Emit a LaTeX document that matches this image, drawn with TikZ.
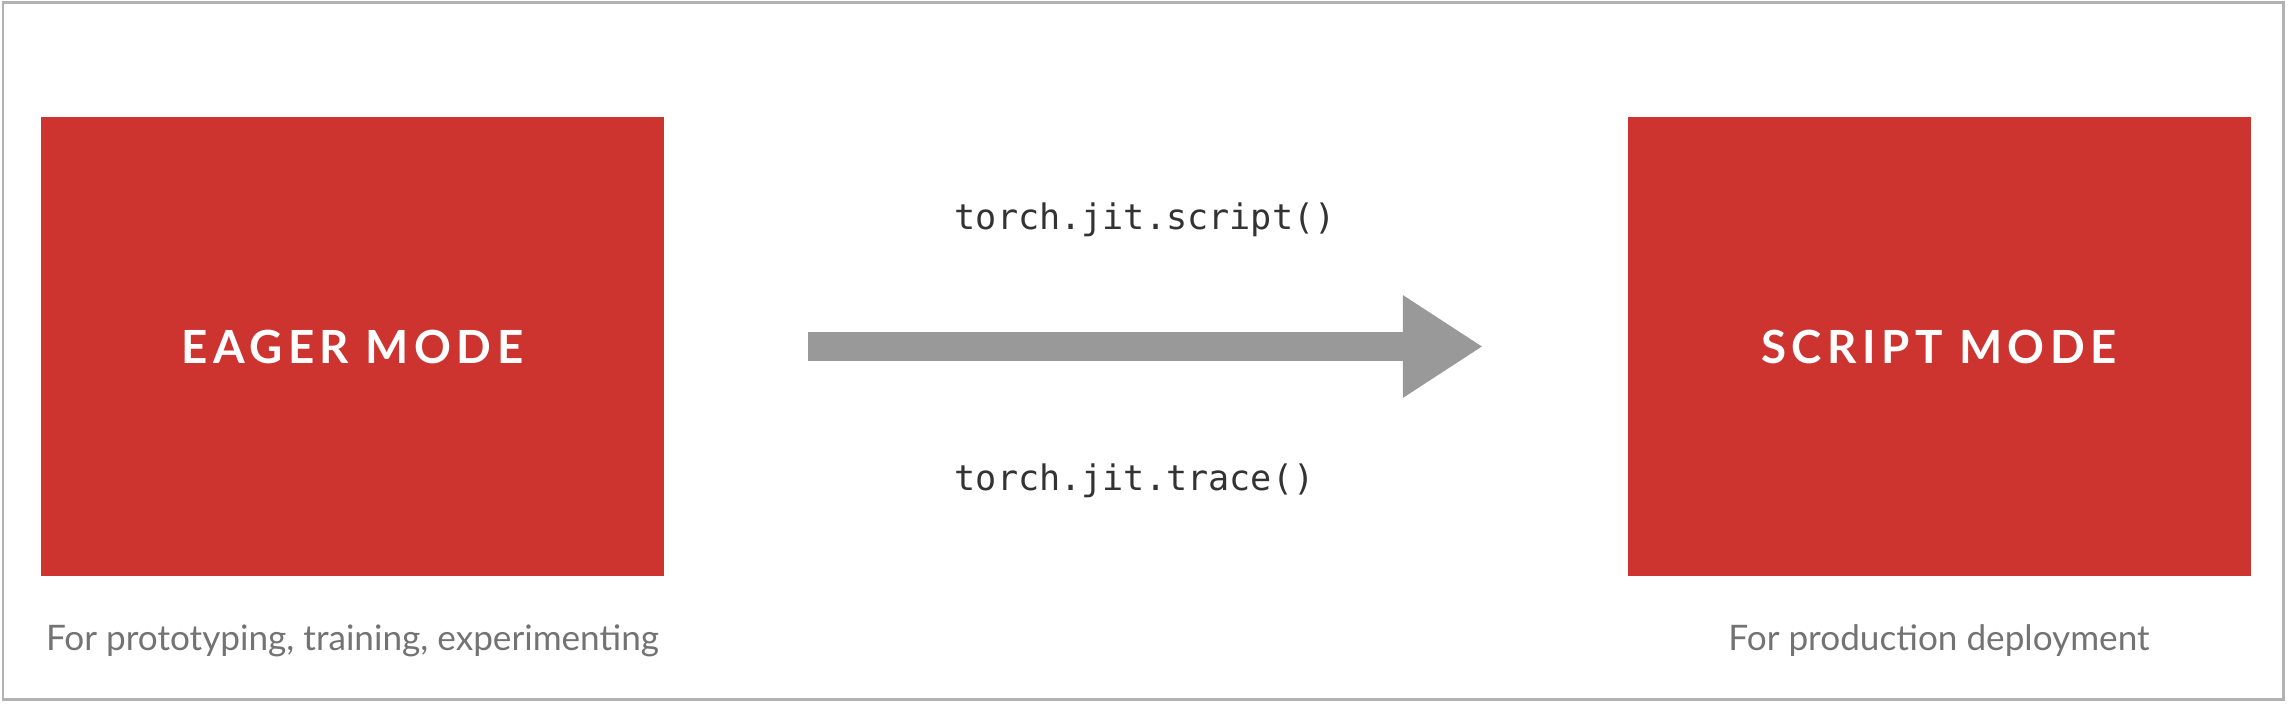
\documentclass[tikz,border=0pt]{standalone}
\usepackage{fontspec}
\usetikzlibrary{arrows.meta,positioning}

\newfontfamily\titulofont[LetterSpace=12]{Lato}
\newfontfamily\notafont{Lato}
\newfontfamily\codigofont{DejaVu Sans Mono}
\definecolor{rojo}{HTML}{CD332F}

\begin{document}
\begin{tikzpicture}[x=0.1mm, y=-0.1mm, % una unidad = un pixel de la imagen
    modo/.style={fill=rojo, minimum width=62.3mm, minimum height=45.9mm,
        inner sep=0pt, text=white, font=\titulofont\bfseries\fontsize{13}{15}\selectfont},
    nota/.style={text=black!55, inner sep=0pt, anchor=base,
        font=\notafont\fontsize{10}{12}\selectfont},
    codigo/.style={text=black!80, inner sep=0pt, anchor=base west,
        font=\codigofont\fontsize{10}{12}\selectfont}]

    % Marco exterior
    \useasboundingbox (0,0) rectangle (2288,704);
    \draw[black!30, line width=0.3mm] (3,3) rectangle (2283,699);

    % 1. Los dos modos
    \node[modo] (eager) at (352.5,346.5) {EAGER MODE};
    \node[modo] (script) at (1939,346.5) {SCRIPT MODE};

    % 2. Notas bajo cada caja
    \node[nota] (notaeager) at ([yshift=-7.4mm]eager.south) {For prototyping, training, experimenting};
    \node[nota] (notascript) at ([yshift=-7.4mm]script.south) {For production deployment};

    % 3. Flecha gruesa entre los modos
    \draw[black!40, line width=2.9mm, -{Triangle[length=8mm, width=9.7mm]},
        shorten <=14.3mm, shorten >=14.4mm] (eager) -- (script);

    % 4. Las dos funciones de conversion
    \node[codigo] (jitscript) at (954,229) {torch.jit.script()};
    \node[codigo] (jittrace) at (954,490) {torch.jit.trace()};

\end{tikzpicture}
\end{document}
